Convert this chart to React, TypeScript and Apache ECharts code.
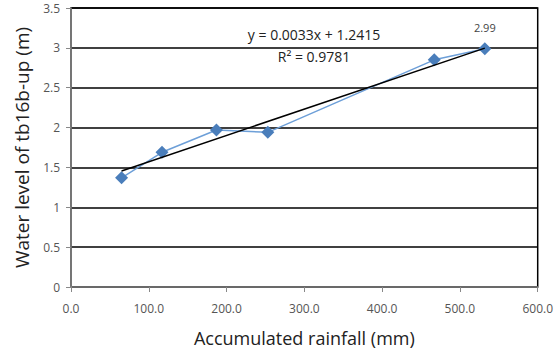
import React, { useEffect, useRef } from "react";
import * as echarts from "echarts";

const rainfall = [65, 117, 187, 253, 467, 532];
const waterLevel = [1.37, 1.69, 1.97, 1.94, 2.85, 2.99];
const slope = 0.0033;
const intercept = 1.2415;
const equationText = "y = 0.0033x + 1.2415";
const r2Text = "R² = 0.9781";

const FONT = "'Open Sans', 'DejaVu Sans', sans-serif";

export default function App() {
  const ref = useRef<HTMLDivElement>(null);
  useEffect(() => {
    if (!ref.current) return;
    const chart = echarts.init(ref.current, null, { renderer: "svg" });
    const xs = [rainfall[0], rainfall[rainfall.length - 1]];
    const trend = xs.map((x) => [x, slope * x + intercept]);
    const pts = rainfall.map((x, i) => [x, waterLevel[i]]);
    chart.setOption({
      animation: false,
      backgroundColor: "#fff",
      grid: {
        left: 71,
        right: 14,
        top: 8,
        bottom: 67,
        show: true,
        borderColor: "#000",
        borderWidth: 1.5,
      },
      xAxis: {
        type: "value",
        min: 0,
        max: 600,
        interval: 100,
        name: "Accumulated rainfall (mm)",
        nameLocation: "middle",
        nameGap: 42,
        nameTextStyle: { fontFamily: FONT, fontSize: 18, color: "#222", letterSpacing: 1.5 },
        axisLine: { show: true, lineStyle: { color: "#888", width: 1.5 } },
        axisTick: { show: true, inside: false, length: 5, lineStyle: { color: "#888" } },
        axisLabel: {
          fontFamily: FONT,
          fontSize: 12,
          color: "#555",
          margin: 15,
          formatter: (v: number) => v.toFixed(1),
        },
        splitLine: { show: false },
      },
      yAxis: {
        type: "value",
        min: 0,
        max: 3.5,
        interval: 0.5,
        name: "Water level of tb16b-up (m)",
        nameLocation: "middle",
        nameGap: 40,
        nameTextStyle: { fontFamily: FONT, fontSize: 19, color: "#222", letterSpacing: 2.6 },
        axisLine: { show: true, lineStyle: { color: "#888", width: 1.5 } },
        axisTick: { show: true, inside: false, length: 5, lineStyle: { color: "#888" } },
        axisLabel: { fontFamily: FONT, fontSize: 12, color: "#555", margin: 11 },
        splitLine: { show: true, lineStyle: { color: "#000", width: 1.5 } },
      },
      series: [
        {
          type: "line",
          data: pts,
          symbol: "diamond",
          symbolSize: 13,
          lineStyle: { color: "#6d9fd8", width: 1.5 },
          itemStyle: { color: "#4a7ebb" },
          label: {
            show: true,
            position: "top",
            distance: 9,
            fontFamily: FONT,
            fontSize: 11,
            color: "#444",
            formatter: (p: any) =>
              p.dataIndex === rainfall.length - 1 ? String(p.value[1]) : "",
          },
          z: 3,
        },
        {
          type: "line",
          data: trend,
          symbol: "none",
          lineStyle: { color: "#000", width: 1.5 },
          z: 4,
        },
      ],
      graphic: [
        {
          type: "text",
          x: 314,
          y: 34,
          style: {
            text: equationText,
            fontFamily: FONT,
            fontSize: 14,
            fill: "#222",
            align: "center",
            verticalAlign: "middle",
          },
        },
        {
          type: "text",
          x: 314,
          y: 56,
          style: {
            text: r2Text,
            fontFamily: FONT,
            fontSize: 14,
            fill: "#222",
            align: "center",
            verticalAlign: "middle",
            letterSpacing: 1,
          },
        },
      ],
    });
    return () => chart.dispose();
  }, []);
  return <div ref={ref} style={{ width: 556, height: 354, position: "absolute", left: 0, top: 0 }} />;
}
